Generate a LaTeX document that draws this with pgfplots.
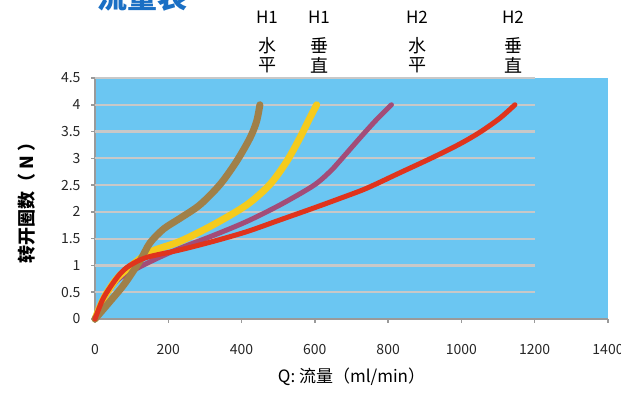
\documentclass[border=0pt]{standalone}
\usepackage{pgfplots}
\pgfplotsset{compat=1.18}
\usetikzlibrary{calc}
\usepackage{fontspec}
\setmainfont{Noto Sans CJK SC}
\definecolor{bgblue}{HTML}{6BC6F2}
\definecolor{gridgray}{HTML}{C8C8C8}
\definecolor{axgray}{HTML}{9A9A9A}
\definecolor{cbrown}{HTML}{A08048}
\definecolor{cyellow}{HTML}{F5CB1C}
\definecolor{cpurple}{HTML}{A34C78}
\definecolor{cred}{HTML}{E0341C}
\definecolor{tblue}{HTML}{1A6FC4}
\begin{document}
\begin{tikzpicture}
\begin{axis}[
  scale only axis, width=513bp, height=241bp,
  xmin=0, xmax=1400, ymin=0, ymax=4.5,
  clip=false,
  axis background/.style={fill=bgblue},
  axis x line=bottom, axis y line=left,
  axis line style={-, axgray, line width=2bp},
  xtick={0,200,...,1400},
  ytick={0,0.5,...,4.5},
  tick align=outside, major tick length=4bp,
  tick style={axgray, line width=1.5bp},
  /pgf/number format/assume math mode=true,
  /pgf/number format/fixed,
  /pgf/number format/1000 sep={},
  ticklabel style={font=\fontsize{14bp}{16bp}\selectfont, text=black!85},
  xticklabel style={yshift=-18bp},
  yticklabel style={xshift=-7bp},
]
\pgfplotsinvokeforeach{0.5,1,1.5,2,2.5,3,3.5,4,4.5}{
  \draw[gridgray, line width=2.2bp] (axis cs:0,#1) -- (axis cs:1200,#1);
}
\addplot[cpurple, line width=5bp, smooth, line cap=round] coordinates {
(0,0) (25,0.38) (60,0.72) (105,0.91) (169,1.13) (232,1.32) (323,1.56) (414,1.82) (505,2.13) (596,2.49) (641,2.75) (668,2.95) (723,3.38) (768,3.72) (809,4.0)};
\addplot[cyellow, line width=7bp, smooth, line cap=round] coordinates {
(0,0) (25,0.40) (60,0.76) (100,1.0) (150,1.25) (232,1.45) (323,1.76) (414,2.13) (477,2.51) (523,2.94) (559,3.38) (586,3.75) (605,4.0)};
\addplot[cbrown, line width=7bp, smooth, line cap=round] coordinates {
(0,0) (40,0.32) (80,0.65) (123,1.09) (150,1.42) (187,1.68) (232,1.88) (286,2.13) (341,2.51) (386,2.94) (423,3.38) (441,3.69) (450,4.0)};
\addplot[cred, line width=5bp, smooth, line cap=round] coordinates {
(0,0) (20,0.35) (41,0.59) (68,0.84) (95,1.0) (141,1.15) (232,1.29) (323,1.45) (414,1.63) (505,1.85) (596,2.07) (668,2.25) (741,2.44) (832,2.73) (923,3.02) (996,3.27) (1051,3.49) (1105,3.75) (1146,4.0)};
\coordinate (bl) at (rel axis cs:0,0);
\coordinate (tr) at (rel axis cs:1,1);
\end{axis}
\foreach \xp/\h/\a/\b in {172/H1/水/平, 224/H1/垂/直, 322/H2/水/平, 418/H2/垂/直}{
  \node[font=\fontsize{17bp}{19bp}\selectfont] at ([shift={(\xp bp,61bp)}]bl |- tr) {\h};
  \node[font=\fontsize{18bp}{20bp}\selectfont] at ([shift={(\xp bp,32bp)}]bl |- tr) {\a};
  \node[font=\fontsize{18bp}{20bp}\selectfont] at ([shift={(\xp bp,13bp)}]bl |- tr) {\b};
}
\node[anchor=base west, inner sep=0pt, text=tblue, font=\fontsize{30bp}{32bp}\selectfont\bfseries] at ([shift={(2bp,69bp)}]bl |- tr) {流量表};
\node[rotate=90, font=\fontsize{18bp}{20bp}\selectfont\bfseries] at ($(bl)!0.5!(bl |- tr)+(-68bp,0bp)$) {转开圈数（ N ）};
\node[font=\fontsize{17bp}{19bp}\selectfont] at ($(bl)!0.5!(tr |- bl)+(0bp,-58bp)$) {Q: 流量（ml/min）};
\pgfresetboundingbox
\path ([shift={(-95bp,-74bp)}]bl) rectangle ([shift={(13bp,78bp)}]tr);
\end{tikzpicture}
\end{document}
